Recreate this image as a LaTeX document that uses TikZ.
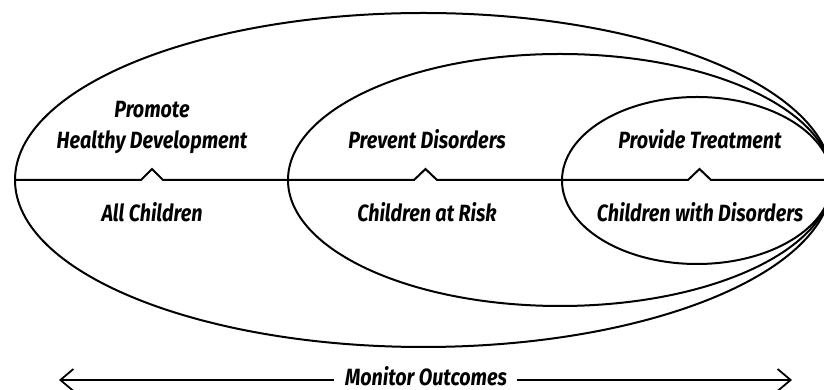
\documentclass[tikz,border=0pt]{standalone}
\usepackage{fontspec}
\setmainfont{Fira Sans}[FakeStretch=0.84]
\usetikzlibrary{arrows.meta}
\begin{document}
\begin{tikzpicture}[x=1pt,y=1pt,
  shape line/.style={line width=2pt},
  lbl/.style={font=\fontsize{23.5}{31}\selectfont\bfseries\itshape, anchor=base, inner sep=0pt, align=center},
  mo arrow/.style={line width=1.8pt, -{Straight Barb[length=13pt,width=22pt,line width=1.8pt]}}]
\useasboundingbox (0,0) rectangle (824,390);
\clip (0,0) rectangle (824,390);
% nested ellipses
\draw[shape line] (423.5,210) ellipse [x radius=408.5, y radius=167];
\draw[shape line] (560,210) ellipse [x radius=272, y radius=126];
\draw[shape line] (697,209.5) ellipse [x radius=135, y radius=83.5];
% divider with carets
\draw[shape line, line join=miter] (15,210) -- (141,210) -- (152,221) -- (163,210)
  -- (414,210) -- (425.5,221) -- (437,210)
  -- (688,210) -- (699.5,221) -- (711,210) -- (830,210);
% labels
\node[lbl] (promote) at (152,241) {Promote\\Healthy Development};
\node[lbl] (prevent) at (427,241) {Prevent Disorders};
\node[lbl] (treat) at (700,241) {Provide Treatment};
\node[lbl] (all) at (152,168) {All Children};
\node[lbl] (risk) at (427,168) {Children at Risk};
\node[lbl] (dis) at (700,168) {Children with Disorders};
\node[lbl] (mo) at (426,4) {Monitor Outcomes};
\coordinate (lt) at (59,10);
\coordinate (rt) at (792,10);
\draw[mo arrow] (mo.west |- lt) ++(-11,0) -- (lt);
\draw[mo arrow] (mo.east |- rt) ++(10,0) -- (rt);
\end{tikzpicture}
\end{document}
